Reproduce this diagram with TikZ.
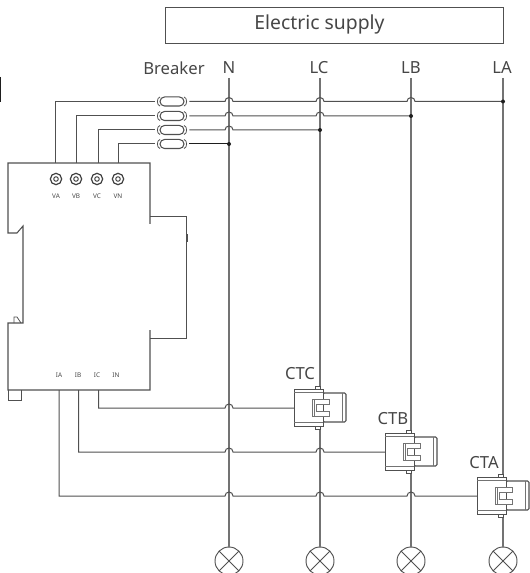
\documentclass[tikz,border=0pt]{standalone}
\usepackage{fontspec}
\setmainfont{Noto Sans}
\usetikzlibrary{positioning,calc}
\usepackage{xcolor}
\definecolor{Wire}{RGB}{80, 80, 80}
\definecolor{Phase}{RGB}{115, 115, 115}
\definecolor{Label}{RGB}{70, 70, 70}
\definecolor{Onyx}{RGB}{30, 30, 30}
\tikzset{
	wire/.style={draw=Wire, line width=0.75pt},
	phase/.style={draw=Phase, line width=1pt},
	caption/.style={text=Label, inner sep=0pt, font=\fontsize{12.5}{14}\selectfont},
	tiny/.style={text=Label, inner sep=0pt, font=\fontsize{4.8}{5}\selectfont},
	junction/.style={circle, fill=Onyx, inner sep=0pt, minimum size=3pt},
	breaker/.style={draw=Wire, line width=0.8pt, fill=white, rounded corners=3.4pt, minimum width=18pt, minimum height=6.8pt, inner sep=0pt, outer sep=4pt,
		append after command={
			([xshift=4pt,yshift=3.4pt]\tikzlastnode.west) edge[Wire, line width=0.6pt, bend right=80] ([xshift=4pt,yshift=-3.4pt]\tikzlastnode.west)
			([xshift=-4pt,yshift=3.4pt]\tikzlastnode.east) edge[Wire, line width=0.6pt, bend left=80] ([xshift=-4pt,yshift=-3.4pt]\tikzlastnode.east)
		}},
	terminal/.style={circle, draw=Onyx!85, line width=0.9pt, inner sep=0pt, minimum size=8.5pt,
		path picture={\draw[Onyx!85, line width=0.7pt] (path picture bounding box.center) circle (1.7pt);}},
	lamp/.style={circle, draw=Wire, line width=0.7pt, fill=white, inner sep=0pt, minimum size=21pt,
		path picture={
			\draw[Wire, line width=0.7pt] (path picture bounding box.north west) -- (path picture bounding box.south east);
			\draw[Wire, line width=0.7pt] (path picture bounding box.north east) -- (path picture bounding box.south west);}},
	ctclamp/.pic={
		\coordinate (-in) at (0,0);
		% corps de la pince
		\draw[Wire, line width=0.6pt, fill=white] (21,-22) rectangle (26,-19);
		\draw[Wire, line width=0.6pt, fill=white] (21,18) rectangle (26,21);
		\draw[Wire, line width=0.8pt, fill=white, rounded corners=1pt] (29,-15) -- (52,-15) -- (52,14) -- (29,14) -- cycle;
		\draw[Phase, line width=0.7pt] (48.5,-15) -- (48.5,14);
		\draw[Wire, line width=0.7pt, fill=white] (0,-19) rectangle (29,18);
		\draw[Phase, line width=0.6pt] (0,-16) -- (29,-16);
		\draw[Phase, line width=0.6pt] (0,14.5) -- (29,14.5);
		% crochet
		\draw[Phase, line width=0.7pt, fill=white] (35,-8.5) -- (18,-8.5) -- (18,8.7) -- (35,8.7) -- (35,3.7) -- (22,3.7) -- (22,-3.5) -- (35,-3.5) -- cycle;
		\draw[Phase, line width=0.5pt] (20,-8.5) -- (20,8.7);
	}
}
\newcommand{\hop}[1]{-- ($(#1)+(-4,0)$) arc[start angle=180, end angle=360, radius=4]}
\begin{document}
\begin{tikzpicture}[x=0.75pt, y=-0.75pt]
	\useasboundingbox (0,0) rectangle (529,573);
	% Alimentation
	\node[draw=Wire, line width=0.8pt, minimum width=254pt, minimum height=27.5pt, inner sep=0pt] (supply) at (334.5,25.5) {};
	\node[caption, font=\fontsize{14.5}{16}\selectfont] (supplyName) at (319.5,24) {Electric supply};
	\draw[Onyx, line width=1.2pt] (0.5,77) -- (0.5,102);
	% Etiquettes des phases
	\node[caption] (labelBreaker) at (174,68) {Breaker};
	\node[caption] (labelN) at (229,68) {N};
	\node[caption] (labelC) at (319,68) {LC};
	\node[caption] (labelB) at (411,68) {LB};
	\node[caption] (labelA) at (502,68) {LA};
	\coordinate (topN) at (229,78);
	\coordinate (topC) at (320,78);
	\coordinate (topB) at (411,78);
	\coordinate (topA) at (503,78);
	% Lampes
	\node[lamp] (lampN) at (229,561) {};
	\node[lamp] (lampC) at (320,561) {};
	\node[lamp] (lampB) at (411,561) {};
	\node[lamp] (lampA) at (503,561) {};
	\draw[phase] (topN) -- (lampN);
	\draw[phase] (topC) -- (lampC);
	\draw[phase] (topB) -- (lampB);
	\draw[phase] (topA) -- (lampA);
	% Disjoncteurs
	\node[breaker] (breakA) at (172,101.5) {};
	\node[breaker] (breakB) at (172,116) {};
	\node[breaker] (breakC) at (172,130) {};
	\node[breaker] (breakN) at (172,144) {};
	% Appareil
	\draw[Wire, line width=0.8pt] (150,224) -- (150,163) -- (8,163) -- (8,233) -- (17,233) -- (23,226) -- (23,323) -- (8,323) -- (8,390) -- (150,390) -- (150,330);
	\draw[Wire, line width=0.7pt] (150,216.4) -- (186.6,216.4) -- (186.6,338.4) -- (150,338.4);
	\draw[Wire, line width=1.4pt] (187,234) -- (187,242);
	\draw[Wire, line width=0.6pt] (8,390) -- (8,400) -- (21,400) -- (21,390);
	\draw[Wire, line width=0.6pt] (14,323) -- (14,317) -- (17,317) -- (21,323);
	\coordinate (portA) at (55.7,163);
	\coordinate (portB) at (76,163);
	\coordinate (portC) at (98.7,163);
	\coordinate (portN) at (118,163);
	\coordinate (outA) at (59,390);
	\coordinate (outB) at (78.5,390);
	\coordinate (outC) at (98.5,390);
	% Bornes
	\node[terminal] (termA) at (56,179) {};
	\node[terminal] (termB) at (76,179) {};
	\node[terminal] (termC) at (97,179) {};
	\node[terminal] (termN) at (118,179) {};
	\node[tiny, below=6pt of termA] (nameVA) {VA};
	\node[tiny, below=6pt of termB] (nameVB) {VB};
	\node[tiny, below=6pt of termC] (nameVC) {VC};
	\node[tiny, below=6pt of termN] (nameVN) {VN};
	\node[tiny] (nameIA) at (59,375) {IA};
	\node[tiny] (nameIB) at (78,375) {IB};
	\node[tiny] (nameIC) at (97,375) {IC};
	\node[tiny] (nameIN) at (116,375) {IN};
	% Tension
	\draw[wire] (portA) |- (breakA.west);
	\draw[wire] (portB) |- (breakB.west);
	\draw[wire] (portC) |- (breakC.west);
	\draw[wire] (portN) |- (breakN.west);
	\draw[wire] (breakA.east) \hop{topN |- breakA} \hop{topC |- breakA} \hop{topB |- breakA} -- (topA |- breakA) node[junction] (dotA) {};
	\draw[wire] (breakB.east) \hop{topN |- breakB} \hop{topC |- breakB} -- (topB |- breakB) node[junction] (dotB) {};
	\draw[wire] (breakC.east) \hop{topN |- breakC} -- (topC |- breakC) node[junction] (dotC) {};
	\draw[wire, Onyx] (breakN.east) -- (topN |- breakN) node[junction] (dotN) {};
	% Courant
	\coordinate (entryC) at (294,408);
	\coordinate (entryB) at (385,452);
	\coordinate (entryA) at (477,496);
	\draw[wire] (outC) -- (outC |- entryC) \hop{topN |- entryC} -- (entryC);
	\draw[wire] (outB) -- (outB |- entryB) \hop{topN |- entryB} \hop{topC |- entryB} -- (entryB);
	\draw[wire] (outA) -- (outA |- entryA) \hop{topN |- entryA} \hop{topC |- entryA} \hop{topB |- entryA} -- (entryA);
	% Pinces
	\pic (ctc) at (entryC) {ctclamp};
	\pic (ctb) at (entryB) {ctclamp};
	\pic (cta) at (entryA) {ctclamp};
	\node[caption] (labelCTC) at (300,374) {CTC};
	\node[caption] (labelCTB) at (393,419) {CTB};
	\node[caption] (labelCTA) at (484,463) {CTA};
\end{tikzpicture}
\end{document}
